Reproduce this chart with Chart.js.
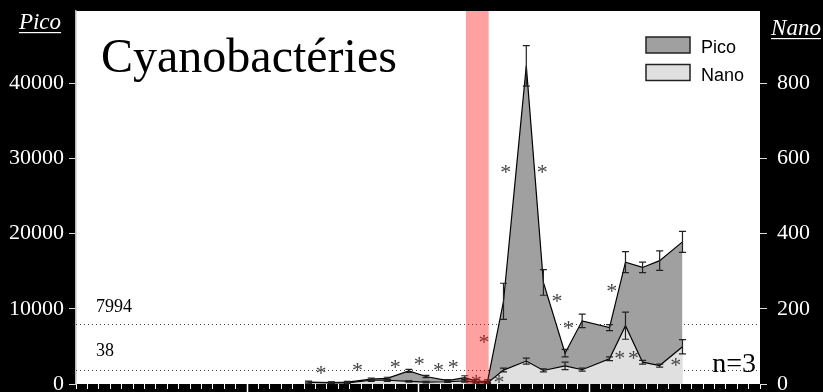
<!DOCTYPE html>
<html><head><meta charset="utf-8">
<script src="https://cdn.jsdelivr.net/npm/chart.js@4.4.0/dist/chart.umd.min.js"></script>
<style>html,body{margin:0;padding:0;background:#000;overflow:hidden}#wrap{width:823px;height:392px}</style>
</head><body><div id="wrap"><canvas id="c" width="823" height="392"></canvas></div>
<script>
// ---- data ----
const xDays   = [20.4,22.4,23.8,25.9,27.3,29.2,30.7,32.6,34.1,35.1,36.1,37.5,39.5,41.0,42.9,44.4,46.8,48.2,49.7,51.2,53.2];
const pico    = [250,200,250,650,750,1750,1000,450,850,400,350,11000,42300,13500,4100,8400,7500,16200,15500,16400,18900];
const picoErr = [120,100,100,150,150,200,150,120,250,200,200,2400,2700,1700,500,900,400,1400,700,1300,1400];
const nano    = [4,3,3,10,10,7,5,6,8,4,3,37,61,36,48,38,67,155,58,49,99];
const nanoErr = [2,2,2,3,3,2,2,2,3,2,2,5,8,4,10,4,5,36,5,4,19];
const picoTicks = [0,10000,20000,30000,40000];
const nanoTicks = [0,200,400,600,800];
const xTicks = Array.from({length:61},(_,i)=>i);
const xMajor = [15,30,45];
const thresholdPico = 7994;
const thresholdNano = 38;
const bandRange = [34.2, 36.2];
const starX = [21.5,24.7,28.0,30.1,31.8,33.1,35.8,35.1,37.1,37.7,40.9,42.2,43.2,47.0,47.7,48.9,52.6];
const starY = [1800,2300,2700,3000,2300,2700,6000,600,600,28600,28600,11400,7900,12700,3900,3900,2900];
const titleText = 'Cyanobactéries';
const nText = 'n=3';

const SERIF = 'Liberation Serif';
const SANS = 'Liberation Sans';

const deco = {
  id:'deco',
  beforeDraw(chart){
    const {ctx, chartArea:a} = chart;
    ctx.save();
    ctx.fillStyle='#000'; ctx.fillRect(0,0,chart.width,chart.height);
    ctx.fillStyle='#fff'; ctx.fillRect(a.left,a.top,a.right-a.left,a.bottom-a.top);
    ctx.restore();
  },
  beforeDatasetsDraw(chart){
    const {ctx, chartArea:a, scales} = chart;
    ctx.save();
    ctx.strokeStyle='#444'; ctx.lineWidth=1; ctx.setLineDash([1,3]);
    const y1 = scales.y.getPixelForValue(thresholdPico);
    const y2 = scales.y2.getPixelForValue(thresholdNano);
    [y1,y2].forEach(y=>{ctx.beginPath();ctx.moveTo(a.left,Math.round(y)+0.5);ctx.lineTo(a.right,Math.round(y)+0.5);ctx.stroke();});
    ctx.setLineDash([]);
    ctx.fillStyle='#000'; ctx.font='18px '+SERIF; ctx.textBaseline='alphabetic'; ctx.textAlign='left';
    ctx.fillText(String(thresholdPico), a.left+20, y1-12);
    ctx.fillText(String(thresholdNano), a.left+20, y2-14);
    ctx.font='48px '+SERIF;
    ctx.fillText(titleText, a.left+25, 72);
    ctx.restore();
  },
  afterDatasetsDraw(chart){
    const {ctx, chartArea:a, scales} = chart;
    const xs=scales.x;
    ctx.save();
    ctx.strokeStyle='#222'; ctx.lineWidth=1.2;
    const drawErr=(vals,errs,sc)=>{
      vals.forEach((v,i)=>{
        const px=xs.getPixelForValue(xDays[i]);
        const t=sc.getPixelForValue(v+errs[i]), b=sc.getPixelForValue(Math.max(0,v-errs[i]));
        ctx.beginPath();
        ctx.moveTo(px,t);ctx.lineTo(px,b);
        ctx.moveTo(px-3.5,t);ctx.lineTo(px+3.5,t);
        ctx.moveTo(px-3.5,b);ctx.lineTo(px+3.5,b);
        ctx.stroke();
      });
    };
    drawErr(pico,picoErr,scales.y);
    drawErr(nano,nanoErr,scales.y2);
    ctx.fillStyle='#444'; ctx.font='22px '+SERIF; ctx.textAlign='center'; ctx.textBaseline='alphabetic';
    starX.forEach((x,i)=>{
      ctx.fillText('*', xs.getPixelForValue(x), scales.y.getPixelForValue(starY[i])+10);
    });
    const bx0=xs.getPixelForValue(bandRange[0]), bx1=xs.getPixelForValue(bandRange[1]);
    ctx.fillStyle='rgba(255,0,0,0.37)';
    ctx.fillRect(bx0,a.top,bx1-bx0,a.bottom-a.top);
    ctx.restore();
  },
  afterDraw(chart){
    const {ctx, chartArea:a, scales} = chart;
    ctx.save();
    ctx.strokeStyle='#fff'; ctx.lineWidth=1.5;
    xMajor.forEach(v=>{const px=Math.round(scales.x.getPixelForValue(v))+0.5;ctx.beginPath();ctx.moveTo(px,a.bottom);ctx.lineTo(px,chart.height);ctx.stroke();});
    ctx.fillStyle='#fff'; ctx.font='italic 23px '+SERIF; ctx.textAlign='center'; ctx.textBaseline='alphabetic';
    const axT=(t,cx,by)=>{ctx.fillText(t,cx,by);const w=ctx.measureText(t).width;ctx.fillRect(cx-w/2,by+3,w,1.2);};
    axT('Pico',40,29);
    axT('Nano',796,35);
    const items=[chart.data.datasets[1],chart.data.datasets[0]];
    ctx.font='18px '+SANS; ctx.textAlign='left';
    items.forEach((d,i)=>{
      const by=37+i*27.5;
      ctx.fillStyle=d.backgroundColor; ctx.fillRect(646,by,44,16);
      ctx.strokeStyle='#222'; ctx.lineWidth=1.5; ctx.strokeRect(646,by,44,16);
      ctx.fillStyle='#000'; ctx.fillText(d.label,701,by+16);
    });
    ctx.font='28px '+SERIF; ctx.textAlign='right'; ctx.fillStyle='#000';
    ctx.fillText(nText, a.right-4, 372);
    ctx.restore();
  }
};

const noPad = s => { s.paddingTop=0; s.paddingBottom=0; s.paddingLeft=0; s.paddingRight=0; };

new Chart(document.getElementById('c'), {
  type:'line',
  data:{
    datasets:[
      {label:'Nano', yAxisID:'y2', data:xDays.map((x,i)=>({x, y:nano[i]})), borderColor:'#000', borderWidth:1.2, backgroundColor:'#e0e0e0', fill:'origin', pointRadius:0, tension:0},
      {label:'Pico', yAxisID:'y', data:xDays.map((x,i)=>({x, y:pico[i]})), borderColor:'#000', borderWidth:1.2, backgroundColor:'#a0a0a0', fill:'origin', pointRadius:0, tension:0}
    ]
  },
  options:{
    responsive:false, animation:false, devicePixelRatio:1,
    layout:{padding:{top:11,left:0,right:0,bottom:0}},
    plugins:{legend:{display:false}, tooltip:{enabled:false}, title:{display:false}},
    scales:{
      x:{type:'linear', min:0, max:60, position:'bottom',
        afterBuildTicks:s=>{s.ticks=xTicks.map(v=>({value:v}));},
        afterFit:s=>{s.height=8; noPad(s);},
        ticks:{callback:()=>'', autoSkip:false, padding:0, maxRotation:0, font:{size:1}},
        grid:{drawOnChartArea:false, drawTicks:true, tickLength:5, tickColor:'#fff', tickWidth:1},
        border:{display:false}},
      y:{position:'left', min:0, max:49600,
        afterBuildTicks:s=>{s.ticks=picoTicks.map(v=>({value:v}));},
        afterFit:s=>{s.width=76; noPad(s);},
        ticks:{color:'#fff', font:{family:SERIF,size:22}, padding:5, callback:v=>String(v)},
        grid:{drawOnChartArea:false, tickLength:7, tickColor:'#ddd', tickWidth:1},
        border:{display:true, color:'#bbb', width:1.5}},
      y2:{position:'right', min:0, max:992,
        afterBuildTicks:s=>{s.ticks=nanoTicks.map(v=>({value:v}));},
        afterFit:s=>{s.width=63; noPad(s);},
        ticks:{color:'#fff', font:{family:SERIF,size:22}, padding:10, callback:v=>String(v)},
        grid:{drawOnChartArea:false, tickLength:7, tickColor:'#ddd', tickWidth:1},
        border:{display:false}}
    }
  },
  plugins:[deco]
});
</script></body></html>
